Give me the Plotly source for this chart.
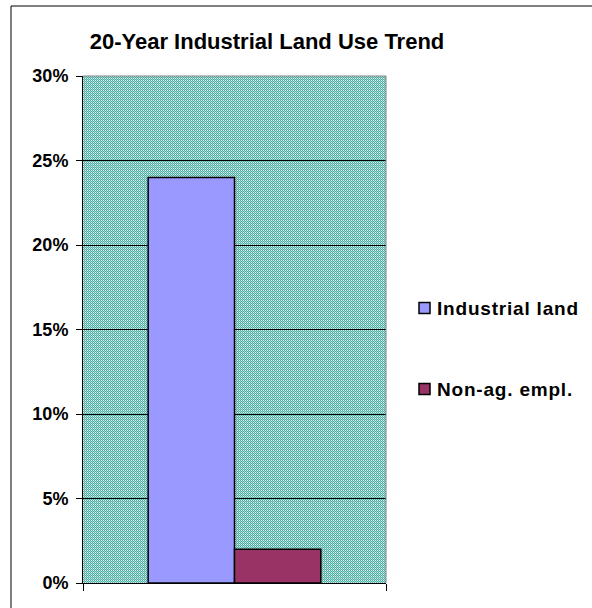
import base64
import plotly.graph_objects as go

# Chart data
categories = ["Trend"]
series_names = ["Industrial land", "Non-ag. empl."]
industrial_land = [24]
non_ag_empl = [2]
y_ticks = [0, 5, 10, 15, 20, 25, 30]
y_tick_text = [f"{v}%" for v in y_ticks]
series_colors = ["#9999ff", "#993366"]

FONT = "Liberation Sans, Arial, sans-serif"
NARROW = "Liberation Sans Narrow, Arial Narrow, Liberation Sans, sans-serif"
W, H = 592, 608
L, R, T, B = 83, 206, 76, 25
PW, PH = W - L - R, H - T - B


def px_x(x):
    return (x - L) / PW


def px_y(y):
    return (H - B - y) / PH


# Checkered teal fill for the plot area, built as a small SVG pattern
svg = (
    f'<svg xmlns="http://www.w3.org/2000/svg" width="{PW}" height="{PH}">'
    '<defs><pattern id="p" width="2" height="2" patternUnits="userSpaceOnUse">'
    '<rect width="2" height="2" fill="#4fada4"/>'
    '<rect width="1" height="1" fill="#dcf1ee"/>'
    '<rect x="1" y="1" width="1" height="1" fill="#96d3cc"/>'
    '</pattern></defs>'
    '<rect width="100%" height="100%" fill="url(#p)"/></svg>'
)
bg_src = "data:image/svg+xml;base64," + base64.b64encode(svg.encode()).decode()

fig = go.Figure()
for name, vals, color in zip(series_names, [industrial_land, non_ag_empl], series_colors):
    fig.add_trace(go.Bar(
        x=categories, y=vals, name=name,
        marker=dict(color=color, line=dict(color="black", width=1.5)),
    ))

# Legend drawn to the right of the plot: swatch + bold label per series
legend_rows_y = [308, 389]
shapes = [
    # plot-area border on the top and right
    dict(type="line", xref="paper", yref="paper", x0=0, x1=1, y0=1, y1=1,
         line=dict(color="#808080", width=1)),
    dict(type="line", xref="paper", yref="paper", x0=1, x1=1, y0=0, y1=1,
         line=dict(color="#808080", width=1)),
    # chart frame
    dict(type="rect", xref="paper", yref="paper",
         x0=px_x(11), x1=px_x(W + 20), y0=px_y(H + 20), y1=px_y(6),
         line=dict(color="black", width=1), fillcolor="rgba(0,0,0,0)"),
]
annotations = []
for name, color, yc in zip(series_names, series_colors, legend_rows_y):
    shapes.append(dict(
        type="rect", xref="paper", yref="paper",
        x0=px_x(419), x1=px_x(430), y0=px_y(yc + 5.5), y1=px_y(yc - 5.5),
        fillcolor=color, line=dict(color="black", width=1.5),
    ))
    annotations.append(dict(
        text=f'<span style="letter-spacing:0.8px"><b>{name}</b></span>',
        xref="paper", yref="paper",
        x=px_x(435), y=px_y(yc), xanchor="left", yanchor="middle",
        showarrow=False, font=dict(size=19, family=FONT, color="black"),
    ))

fig.update_layout(
    width=W, height=H,
    margin=dict(l=L, r=R, t=T, b=B),
    paper_bgcolor="white",
    plot_bgcolor="rgba(0,0,0,0)",
    barmode="group", bargap=0.43, bargroupgap=0,
    showlegend=False,
    font=dict(family=FONT, color="black"),
    title=dict(
        text="<b>20-Year Industrial Land Use Trend</b>",
        font=dict(size=22, family=FONT, color="black"),
        xref="container", yref="container",
        x=267 / W, y=1 - 41 / H, xanchor="center", yanchor="middle",
    ),
    images=[dict(
        source=bg_src, xref="paper", yref="paper", x=0, y=1,
        sizex=1, sizey=1, sizing="stretch", layer="below",
        xanchor="left", yanchor="top",
    )],
    shapes=shapes,
    annotations=annotations,
)

fig.update_xaxes(
    type="category", showticklabels=False, showgrid=False,
    showline=True, linecolor="black", linewidth=1,
    ticks="outside", tickson="boundaries", ticklen=7, tickcolor="black",
)
fig.update_yaxes(
    range=[0, 30], tickmode="array", tickvals=y_ticks, ticktext=y_tick_text,
    showgrid=True, gridcolor="black", gridwidth=1,
    showline=True, linecolor="black", linewidth=1,
    ticks="outside", ticklen=6, tickcolor="black", ticklabelstandoff=4,
    tickfont=dict(size=18, family=NARROW, color="black", weight="bold"),
    zeroline=False,
)

fig.write_html("out.html")
